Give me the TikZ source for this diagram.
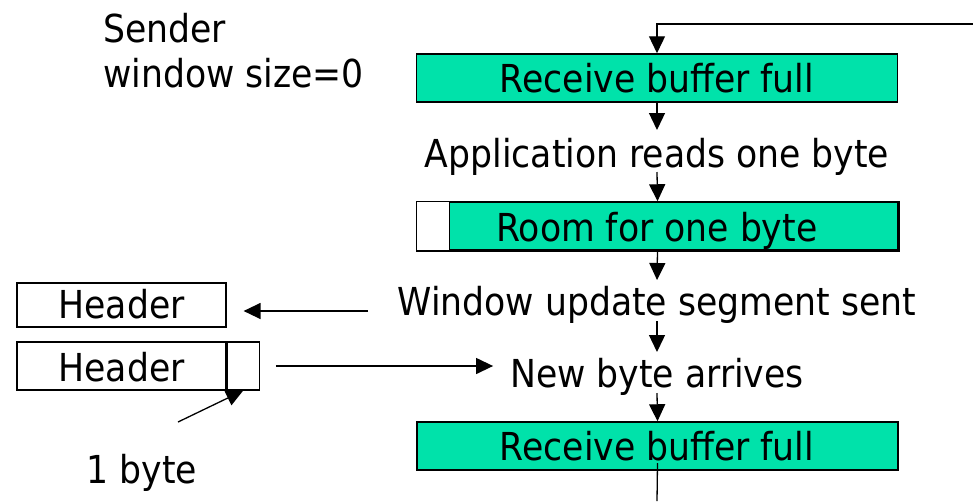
\documentclass[tikz,border=0pt]{standalone}
\usepackage{fontspec}
\setmainfont{DejaVu Sans Condensed}
\usetikzlibrary{arrows.meta}
\definecolor{bufgreen}{RGB}{0,226,170}
\tikzset{
  buf/.style={draw, line width=1.5pt, fill=bufgreen, minimum width=481pt, minimum height=48pt, inner sep=0pt},
  hdr/.style={draw, line width=1.2pt, minimum width=209pt, minimum height=44pt, inner sep=0pt},
  bytebox/.style={draw, line width=1.2pt, minimum width=32pt, minimum height=48pt, inner sep=0pt},
  lbl/.style={inner sep=0pt, anchor=base},
  arr/.style={line width=1.3pt, -{Triangle[length=17pt,width=16pt]}},
  plain/.style={line width=1.3pt}
}
\begin{document}
\begin{tikzpicture}[x=1pt, y=-1pt, font=\fontsize{38.5}{44}\selectfont]
\useasboundingbox (0,0) rectangle (973,501);

% sender state
\node[lbl, anchor=base west] (sender) at (103,42) {Sender};
\node[lbl, anchor=base west] (winsize) at (103,87) {window size=0};

% receiver states and events
\node[buf] (full1) at (657,78) {};
\node[lbl] at (657,92) {Receive buffer full};
\node[lbl] (appread) at (657,167) {Application reads one byte};
\node[buf] (room) at (657.5,226) {};
\fill[white] (room.north west) rectangle ([xshift=33pt]room.south west);
\draw[line width=1.5pt] (room.north west) rectangle (room.south east);
\draw[line width=1.5pt] ([xshift=33pt]room.north west) -- ([xshift=33pt]room.south west);
\node[lbl] at (657,241) {Room for one byte};
\node[lbl] (winupd) at (657,315) {Window update segment sent};
\node[lbl] (newbyte) at (657,387) {New byte arrives};
\node[buf] (full2) at (657.5,446) {};
\node[lbl] at (657,460) {Receive buffer full};

% segments on the sender side
\node[hdr] (hdr1) at (121.5,305) {};
\node[lbl] at (121.5,318) {Header};
\node[hdr, minimum height=48pt] (hdr2) at (121.5,366) {};
\node[lbl] at (121.5,381) {Header};
\node[bytebox, anchor=west] (byte) at (hdr2.east) {};
\node[lbl] (onebyte) at (142,483) {1 byte};

% free ends
\coordinate (loop) at (973,24);
\coordinate (updstart) at (368,311);
\coordinate (bytestart) at (178,422);
\coordinate (tail) at (657,501);

% vertical flow
\draw[arr] (loop) -| (full1.north);
\draw[arr] (full1.south) -- ([yshift=37pt]appread.base);
\draw[arr] ([yshift=-5pt]appread.base) -- (room.north);
\draw[arr] (room.south) -- ([yshift=35pt]winupd.base);
\draw[arr] ([yshift=-6pt]winupd.base) -- ([yshift=35pt]newbyte.base);
\draw[arr] ([yshift=-6pt]newbyte.base) -- (full2.north);
\draw[plain] ([yshift=-17pt]full2.center) -- (tail);

% horizontal messages
\draw[arr] (updstart) -- ([xshift=17pt,yshift=-6pt]hdr1.east);
\draw[arr, shorten <=16pt] (byte.east) -- ([xshift=-17pt]newbyte.west |- byte.east);
\draw[arr] (bytestart) -- (byte.south);
\end{tikzpicture}
\end{document}
